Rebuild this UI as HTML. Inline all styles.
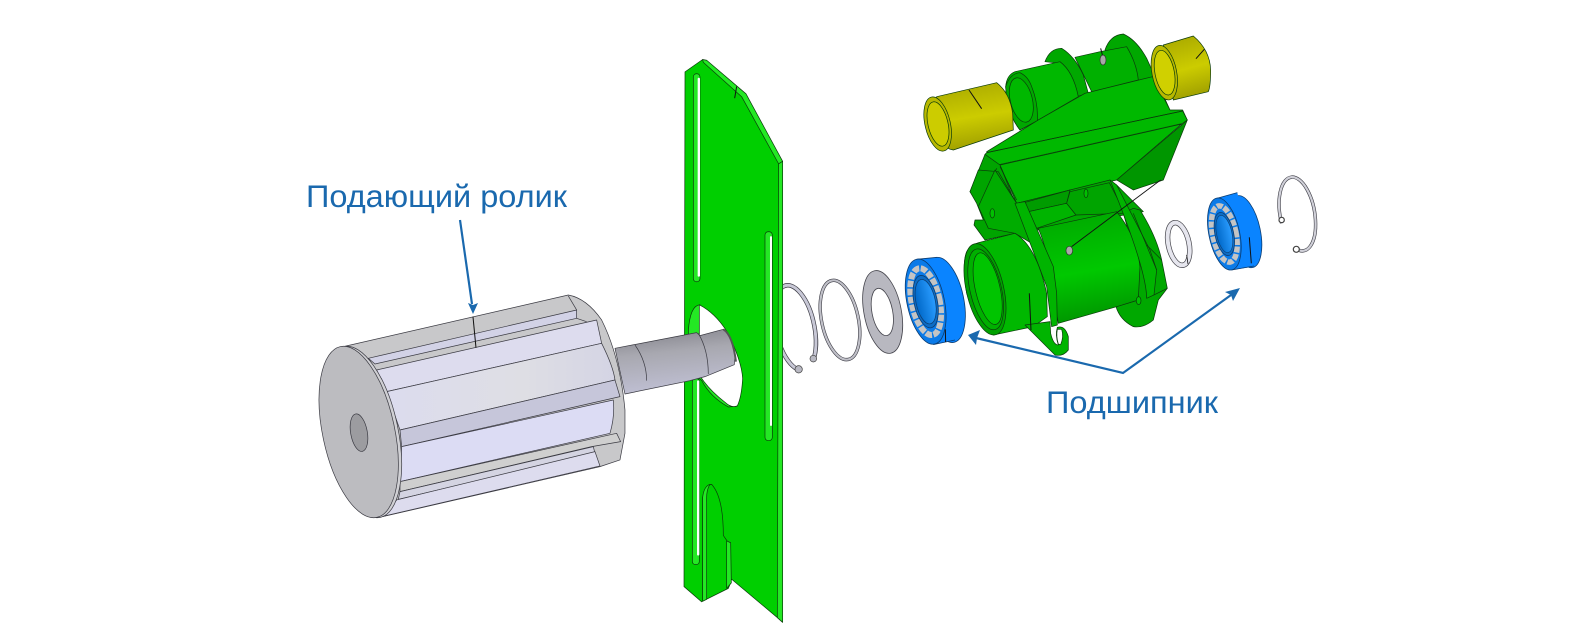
<!DOCTYPE html>
<html lang="ru"><head><meta charset="utf-8"><title>Подшипник</title>
<style>
html,body{margin:0;padding:0;background:#fff;width:1584px;height:641px;overflow:hidden}
svg{display:block}
svg *{vector-effect:non-scaling-stroke}
.k{stroke:#0b3b0b;stroke-width:.7;stroke-linejoin:round}
.g{stroke:#3a3a42;stroke-width:.7;stroke-linejoin:round}
text{font-family:"Liberation Sans",sans-serif;fill:#1a69ae;font-size:31.5px}
</style></head><body>
<svg width="1584" height="641" viewBox="0 0 1584 641" xmlns="http://www.w3.org/2000/svg">
<defs>
<linearGradient id="sh" x1="0.1" y1="0" x2="0.3" y2="1"><stop offset="0" stop-color="#808088"/><stop offset=".4" stop-color="#a8a8b0"/><stop offset="1" stop-color="#c0c0d4"/></linearGradient>
<linearGradient id="pb" x1="0" y1="0" x2="1" y2="0"><stop offset="0" stop-color="#dcdcee"/><stop offset=".6" stop-color="#dedee4"/><stop offset="1" stop-color="#d4d4e4"/></linearGradient>
<linearGradient id="yl" x1="0.2" y1="0" x2="0.4" y2="1"><stop offset="0" stop-color="#a8a800"/><stop offset=".55" stop-color="#cccc00"/><stop offset="1" stop-color="#a0a000"/></linearGradient>
<linearGradient id="gr" x1="0.3" y1="0" x2="0.45" y2="1"><stop offset="0" stop-color="#00a800"/><stop offset=".55" stop-color="#00c800"/><stop offset="1" stop-color="#009400"/></linearGradient>
<linearGradient id="bl" x1="0" y1="0" x2="1" y2="0"><stop offset="0" stop-color="#0068c8"/><stop offset="1" stop-color="#2a9cff"/></linearGradient>
</defs>

<!-- rings left -->
<g transform="translate(760,170) scale(.3333)" fill="none">
<path d="M118,600 A58,130 -12 1 1 160,570" stroke="#3b3b44" stroke-width="4.4"/>
<path d="M118,600 A58,130 -12 1 1 160,570" stroke="#c8c8d6" stroke-width="3"/>
<circle cx="116" cy="598" r="11" fill="#b8b8c2" stroke="#444" stroke-width=".7"/>
<circle cx="160" cy="566" r="10" fill="#b8b8c2" stroke="#444" stroke-width=".7"/>
<ellipse cx="240" cy="450" rx="55" ry="121" transform="rotate(-12 240 450)" stroke="#3b3b44" stroke-width="3.4"/>
<ellipse cx="240" cy="450" rx="55" ry="121" transform="rotate(-12 240 450)" stroke="#c0c0c8" stroke-width="2.2"/>
<ellipse cx="368" cy="426" rx="56" ry="126" transform="rotate(-11 368 426)" fill="#b8b8c0" stroke="#44444c" stroke-width=".8"/>
<ellipse cx="367" cy="426" rx="31" ry="72" transform="rotate(-11 367 426)" fill="#fff" stroke="#44444c" stroke-width=".8"/>
<!-- bearing 1 -->
<ellipse cx="555" cy="390" rx="56" ry="130" transform="rotate(-12 555 390)" fill="#0a84ff" stroke="#0c3c70" stroke-width=".8"/>
<path d="M470,268 L532,262 L585,510 L520,524 Z" fill="#0a84ff"/>
<path d="M470,268 L532,262 M520,524 L585,510" stroke="#0c3c70" stroke-width=".8"/>
<ellipse cx="497" cy="395" rx="56" ry="130" transform="rotate(-12 497 395)" fill="#0a7ae8" stroke="#0c3c70" stroke-width=".8"/>
<ellipse cx="497" cy="395" rx="42" ry="102" transform="rotate(-12 497 395)" fill="none" stroke="#c4c4c4" stroke-width="6" stroke-dasharray="6.5 1.5"/>
<ellipse cx="497" cy="395" rx="35" ry="80" transform="rotate(-12 497 395)" fill="#0d6cc4" stroke="#0c3c70" stroke-width=".8"/>
<ellipse cx="497" cy="395" rx="29" ry="68" transform="rotate(-12 497 395)" fill="url(#bl)" stroke="#0c3c70" stroke-width=".7"/>
<path d="M556,478 L557,516" stroke="#111" stroke-width="1"/>
</g>

<!-- right small rings and bearing -->
<g transform="translate(1130,160) scale(.3333)" fill="none">
<ellipse cx="146" cy="252" rx="31" ry="65" transform="rotate(-12 146 252)" stroke="#45454c" stroke-width="5.4"/>
<ellipse cx="146" cy="252" rx="31" ry="65" transform="rotate(-12 146 252)" stroke="#e6e6ee" stroke-width="4"/>
<path d="M170,285 L174,312" stroke="#111" stroke-width=".8"/>
<ellipse cx="345" cy="215" rx="46" ry="110" transform="rotate(-12 345 215)" fill="#0a84ff" stroke="#0c3c70" stroke-width=".8"/>
<path d="M260,115 L322,98 L372,320 L305,330 Z" fill="#0a84ff"/>
<path d="M260,115 L322,98 M305,330 L372,318" stroke="#0c3c70" stroke-width=".8"/>
<ellipse cx="283" cy="222" rx="46" ry="110" transform="rotate(-12 283 222)" fill="#0a7ae8" stroke="#0c3c70" stroke-width=".8"/>
<ellipse cx="283" cy="222" rx="35" ry="86" transform="rotate(-12 283 222)" fill="none" stroke="#c4c4c4" stroke-width="5.5" stroke-dasharray="6 1.5"/>
<ellipse cx="283" cy="222" rx="28" ry="66" transform="rotate(-12 283 222)" fill="#0d6cc4" stroke="#0c3c70" stroke-width=".8"/>
<ellipse cx="283" cy="222" rx="23" ry="57" transform="rotate(-12 283 222)" fill="url(#bl)" stroke="#0c3c70" stroke-width=".6"/>
<path d="M358,232 L364,310" stroke="#111" stroke-width="1"/>
<path d="M455,190 A52,112 -10 1 1 497,265" stroke="#3b3b44" stroke-width="3.4"/>
<path d="M455,190 A52,112 -10 1 1 497,265" stroke="#d0d0d8" stroke-width="2.2"/>
<circle cx="455" cy="180" r="8" fill="#fff" stroke="#444" stroke-width="1.2"/>
<circle cx="499" cy="268" r="9" fill="#fff" stroke="#444" stroke-width="1.2"/>
</g>

<!-- housing top part: x=960+z/3, y=30+z/3 -->
<g transform="translate(960,30) scale(.3333)">
<path d="M435,60 Q450,15 490,12 Q530,30 560,85 L630,240 L540,160 Z" fill="#00a800" class="k"/>
<path d="M345,82 L420,65 L500,50 Q530,100 535,150 L395,185 Z" fill="#00b000" class="k"/>
<path d="M255,95 Q270,55 305,55 Q345,80 370,135 L385,190 L350,200 L300,100 Z" fill="#00a800" class="k"/>
<path d="M165,125 L300,95 Q340,125 355,200 L235,270 L180,300 Q140,250 137,170 Q140,135 165,125 Z" fill="#00b800" class="k"/>
<path d="M215,170 Q235,220 232,272 L180,300 Q140,250 137,170 Q150,130 180,128 Q205,140 215,170 Z" fill="#00a800" class="k"/>
<ellipse cx="184" cy="210" rx="33" ry="68" transform="rotate(-14 184 210)" fill="#00b800" class="k"/>
<path d="M80,365 L235,270 L375,190 L395,185 L578,140 L630,240 L668,240 L682,270 L100,408 Z" fill="#00b800" class="k"/>
<path d="M80,368 L668,243 L682,270 L665,282 L100,408 L75,373 Z" fill="#00b800" class="k"/>
<path d="M80,368 L668,243" fill="none" class="k"/>
<path d="M120,405 L665,282" fill="none" stroke="#086008" stroke-width="1.4"/>
<path d="M120,405 L665,282 L470,450 L170,520 Z" fill="#00b800" class="k"/>
<path d="M665,285 L682,270 L610,450 L520,480 L470,450 Z" fill="#009600" class="k"/>
<path d="M75,373 L30,485 L60,530 L170,530 L120,405 Z" fill="#00a400" class="k"/>
<path d="M110,415 L65,510 M120,410 L170,510" fill="none" class="k"/>
<path d="M422,55 L430,85" stroke="#111" stroke-width="1"/>
<ellipse cx="429" cy="90" rx="9" ry="15" fill="#a8a8a8" stroke="#333" stroke-width=".7"/>
</g>

<!-- yellow bushings -->
<g transform="translate(900,30) scale(.3333)">
<path d="M110,200 L290,158 Q330,190 338,250 L340,300 L160,360 Q100,350 90,240 Z" fill="url(#yl)" class="k"/>
<ellipse cx="113" cy="282" rx="38" ry="83" transform="rotate(-13 113 282)" fill="#b8b800" class="k"/>
<ellipse cx="114" cy="282" rx="30" ry="68" transform="rotate(-13 114 282)" fill="#cccc00" class="k"/>
<path d="M207,180 L245,236" stroke="#111" stroke-width="1"/>
<path d="M790,45 L880,18 Q930,60 932,120 Q932,170 925,185 L820,210 Z" fill="url(#yl)" class="k"/>
<ellipse cx="793" cy="128" rx="37" ry="83" transform="rotate(-11 793 128)" fill="#b8b800" class="k"/>
<ellipse cx="794" cy="128" rx="29" ry="68" transform="rotate(-11 794 128)" fill="#d0d000" class="k"/>
<path d="M913,58 L888,86" stroke="#111" stroke-width="1"/>
</g>

<!-- housing lower part: x=950+z/3, y=170+z/3 -->
<g transform="translate(950,170) scale(.3333)">
<path d="M85,0 L60,65 L80,100 L100,150 L75,150 L72,165 L105,210 L195,190 L200,100 L145,5 Z" fill="#00a400" class="k"/>
<path d="M135,0 L85,110 L115,175 L195,190 L245,220 L200,100 Z" fill="#00ac00" class="k"/>
<path d="M200,100 L480,30 L500,45 L580,125 L265,180 Z" fill="#00a800" class="k"/>
<path d="M215,100 L360,60 L350,100 L235,125 Z" fill="#009c00" class="k"/>
<path d="M235,125 L350,100 L378,135 L260,175 Z" fill="#00b400" class="k"/>
<path d="M360,65 L478,38 L525,130 L378,135 L350,100 Z" fill="#00a400" class="k"/>
<path d="M550,115 L570,120 Q620,200 635,270 L652,355 L625,390 L610,450 Q580,475 550,470 Q510,450 498,410 L565,390 Q570,300 520,130 Z" fill="#00a800" class="k"/>
<path d="M265,175 L500,125 Q560,200 570,290 L565,390 L500,410 L325,460 L310,370 Q300,260 265,175 Z" fill="url(#gr)" class="k"/>
<path d="M480,30 L500,45 L600,240 L620,300 L612,375 L590,385 Q590,300 480,30 Z" fill="#00b400" class="k"/>
<path d="M550,130 L620,300 M590,225 L635,270 M612,375 L652,355" fill="none" class="k"/>
<path d="M195,100 L225,95 L310,290 L320,370 L322,465 L305,470 L290,350 Z" fill="#00b400" class="k"/>
<path d="M85,218 L195,190 Q260,230 290,370 L292,440 L250,470 L130,495 Q80,470 50,370 Q35,280 50,245 Q60,225 85,218 Z" fill="#00b800" class="k"/>
<ellipse cx="105" cy="358" rx="56" ry="140" transform="rotate(-13 105 358)" fill="#00a000" class="k"/>
<ellipse cx="107" cy="358" rx="47" ry="124" transform="rotate(-13 107 358)" fill="#00b000" class="k"/>
<ellipse cx="113" cy="356" rx="37" ry="110" transform="rotate(-13 113 356)" fill="#00c400" class="k"/>
<path d="M225,465 L300,455 L302,490 Q310,525 325,525 Q315,495 322,472 Q345,465 355,500 L355,540 Q340,560 315,555 Z" fill="#00b400" class="k"/>
<path d="M322,478 Q318,500 325,522 L332,524 Q342,500 335,478 Z" fill="#fff" class="k"/>
<path d="M238,370 L243,480" stroke="#111" stroke-width="1"/>
<path d="M632,30 L365,230" stroke="#111" stroke-width=".9"/>
<ellipse cx="358" cy="242" rx="10" ry="13" fill="#a8a8a8" stroke="#333" stroke-width=".7"/>
<ellipse cx="127" cy="130" rx="7" ry="14" fill="#00c000" class="k"/>
<ellipse cx="408" cy="70" rx="6" ry="13" fill="#00c000" class="k"/>
<ellipse cx="566" cy="392" rx="7" ry="12" fill="#00c000" class="k"/>
</g>

<!-- plate -->
<g transform="translate(660,50) scale(.3333,.365)">
<path d="M75,60 L128,26 L250,118 L358,300 L368,305 L368,1568 L352,1555 L215,1450 L205,1470 L125,1512 L72,1470 Z" fill="#00cf00" class="k"/>
<path d="M128,26 L140,28 L258,120 L368,305 L356,312 L245,128 L130,34 Z" fill="#24e824" class="k"/>
<path d="M356,312 L368,305 L368,1568 L352,1555 Z" fill="#24e824" class="k"/>
<rect x="100" y="65" width="20" height="570" rx="9" fill="#24e824" class="k"/>
<rect x="113" y="76" width="7" height="545" rx="3" fill="#fff"/>
<rect x="315" y="498" width="22" height="572" rx="9" fill="#24e824" class="k"/>
<rect x="330" y="510" width="6" height="520" rx="3" fill="#fff"/>
<rect x="97" y="900" width="21" height="510" rx="9" fill="#24e824" class="k"/>
<rect x="111" y="905" width="7" height="480" rx="3" fill="#fff"/>
<path d="M128,1510 L128,1225 Q140,1190 155,1190 Q190,1225 190,1330 L205,1350 L212,1460 L205,1475 Z" fill="#00cf00" class="k"/>
<path d="M128,1510 L128,1225 Q132,1195 150,1190 Q138,1205 140,1240 L140,1505 Z" fill="#24e824" class="k"/>
<path d="M200,1345 L212,1350 L214,1460 L200,1475 Z" fill="#24e824" class="k"/>
<path d="M120,698 Q90,700 85,770 L88,880 L125,905 Q150,950 205,978 L232,975 Z" fill="#24e824" class="k"/>
<path d="M118,698 Q165,720 200,770 Q245,850 248,900 Q245,950 232,975 Q215,982 195,965 Q145,930 118,890 Z" fill="#fff" class="k"/>
<path d="M230,100 L224,132" stroke="#111" stroke-width="1"/>
</g>

<!-- roller: x=300+z/3, y=170+z/3 -->
<g transform="translate(300,170) scale(.3333)">
<path d="M945,535 L1190,488 L1200,497 L1270,478 Q1295,490 1305,560 L1303,584 L1215,620 L1170,632 L975,672 Z" fill="url(#sh)" class="g"/>
<path d="M1005,525 Q1040,575 1040,632 M1195,490 Q1225,540 1225,612" fill="none" class="g"/>
<path d="M1270,478 Q1298,495 1308,575" fill="none" stroke="#555" stroke-width="2"/>
<path d="M130,530 L805,375 Q860,385 905,450 Q960,560 975,720 L975,790 L960,870 L900,890 L240,1042 Z" fill="#c8c8ca" class="g"/>
<path d="M205,565 L830,420 L830,445 L225,582 Z" fill="#d2d2e6" class="g"/>
<path d="M805,378 L830,420 M830,445 L860,455" fill="none" class="g"/>
<path d="M230,600 L890,450 L905,520 L260,665 Z" fill="#dddcee" class="g"/>
<path d="M260,665 L905,520 Q940,590 945,630 L300,780 Z" fill="url(#pb)" class="g"/>
<path d="M300,780 L945,630 L960,680 L305,830 Z" fill="#c6c6da" class="g"/>
<path d="M305,830 L940,690 Q945,740 930,790 L300,935 Z" fill="#dcdcf4" class="g"/>
<path d="M300,935 L950,790 L962,815 L875,830 L300,965 Z" fill="#cfcfcf" class="g"/>
<path d="M300,965 L880,830 L885,850 L295,988 Z" fill="#d4d4e2" class="g"/>
<path d="M290,990 L885,845 L900,888 L245,1040 Z" fill="#dddcee" class="g"/>
<ellipse cx="186" cy="786" rx="108" ry="262" transform="rotate(-12 186 786)" fill="#d0d0d4" class="g"/>
<ellipse cx="176" cy="786" rx="108" ry="262" transform="rotate(-12 176 786)" fill="#bcbcc0" class="g"/>
<ellipse cx="177" cy="788" rx="25" ry="57" transform="rotate(-10 177 788)" fill="#9c9ca0" class="g"/>
<path d="M519,440 L528,533" stroke="#111" stroke-width="1"/>
</g>

<!-- arrows -->
<g fill="none" stroke="#1a69ae" stroke-width="2.2">
<path d="M460,220 L472,304"/>
<path d="M976,338 L1123,373 L1231,295"/>
</g>
<g fill="#1a69ae">
<path d="M473,314 L468,303 L473,305 L478,303 Z"/>
<path d="M968,335 L980,330 L977,338 L976,345 Z"/>
<path d="M1240,288 L1233,301 L1231,295 L1225,292 Z"/>
</g>
<text x="306" y="207" textLength="261" lengthAdjust="spacingAndGlyphs">Подающий ролик</text>
<text x="1046" y="413" textLength="172" lengthAdjust="spacingAndGlyphs">Подшипник</text>
</svg>
</body></html>
